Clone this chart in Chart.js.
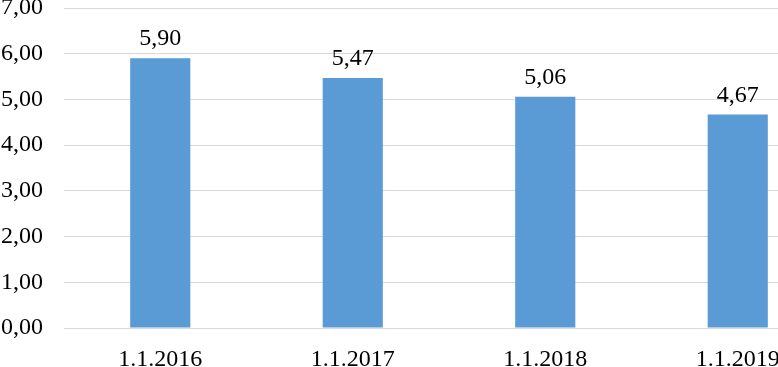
<!DOCTYPE html>
<html>
<head>
<meta charset="utf-8">
<script src="https://cdn.jsdelivr.net/npm/chart.js@4/dist/chart.umd.min.js"></script>
<style>
  html, body { margin: 0; padding: 0; background: #fff; overflow: hidden; }
  #wrap { width: 778px; height: 367px; overflow: hidden; }
</style>
</head>
<body>
<div id="wrap"><canvas id="chart" width="834" height="367"></canvas></div>
<script>
const categories = ['1.1.2016', '1.1.2017', '1.1.2018', '1.1.2019'];
const values = [5.90, 5.47, 5.06, 4.67];
const yTicks = [0, 1, 2, 3, 4, 5, 6, 7];

const FONT = { family: '"Liberation Serif", "Times New Roman", serif', size: 24 };

function fmt(v) {
  return v.toFixed(2).replace('.', ',');
}

// values above the bars
const barLabels = {
  id: 'barLabels',
  afterDatasetsDraw(chart) {
    const ctx = chart.ctx;
    const meta = chart.getDatasetMeta(0);
    ctx.save();
    ctx.font = FONT.size + 'px ' + FONT.family;
    ctx.fillStyle = '#000';
    ctx.textAlign = 'center';
    ctx.textBaseline = 'alphabetic';
    meta.data.forEach((bar, i) => {
      ctx.fillText(fmt(values[i]), bar.x, bar.y - 13);
    });
    ctx.restore();
  }
};

new Chart(document.getElementById('chart'), {
  type: 'bar',
  data: {
    labels: categories,
    datasets: [{
      data: values,
      backgroundColor: '#5B9BD5',
      borderWidth: 0,
      barPercentage: 0.3125,
      categoryPercentage: 1
    }]
  },
  options: {
    responsive: false,
    animation: false,
    layout: { padding: { top: 8, left: 0, right: 0, bottom: 0 } },
    plugins: {
      legend: { display: false },
      tooltip: { enabled: false }
    },
    scales: {
      x: {
        grid: { display: false, drawTicks: false },
        border: { display: false },
        ticks: { color: '#000', font: FONT, padding: 17, maxRotation: 0 },
        afterFit(scale) {
          scale.height = 39;
          scale.paddingLeft = 0;
          scale.paddingRight = 0;
        }
      },
      y: {
        min: yTicks[0],
        max: yTicks[yTicks.length - 1],
        afterBuildTicks(scale) {
          scale.ticks = yTicks.map(v => ({ value: v }));
        },
        grid: { color: '#D9D9D9', lineWidth: 1, drawTicks: false },
        border: { display: false },
        ticks: {
          color: '#000',
          font: FONT,
          padding: 21,
          callback: v => fmt(v)
        },
        afterFit(scale) {
          scale.width = 64;
          scale.paddingTop = 0;
          scale.paddingBottom = 0;
        }
      }
    }
  },
  plugins: [barLabels]
});
</script>
</body>
</html>
